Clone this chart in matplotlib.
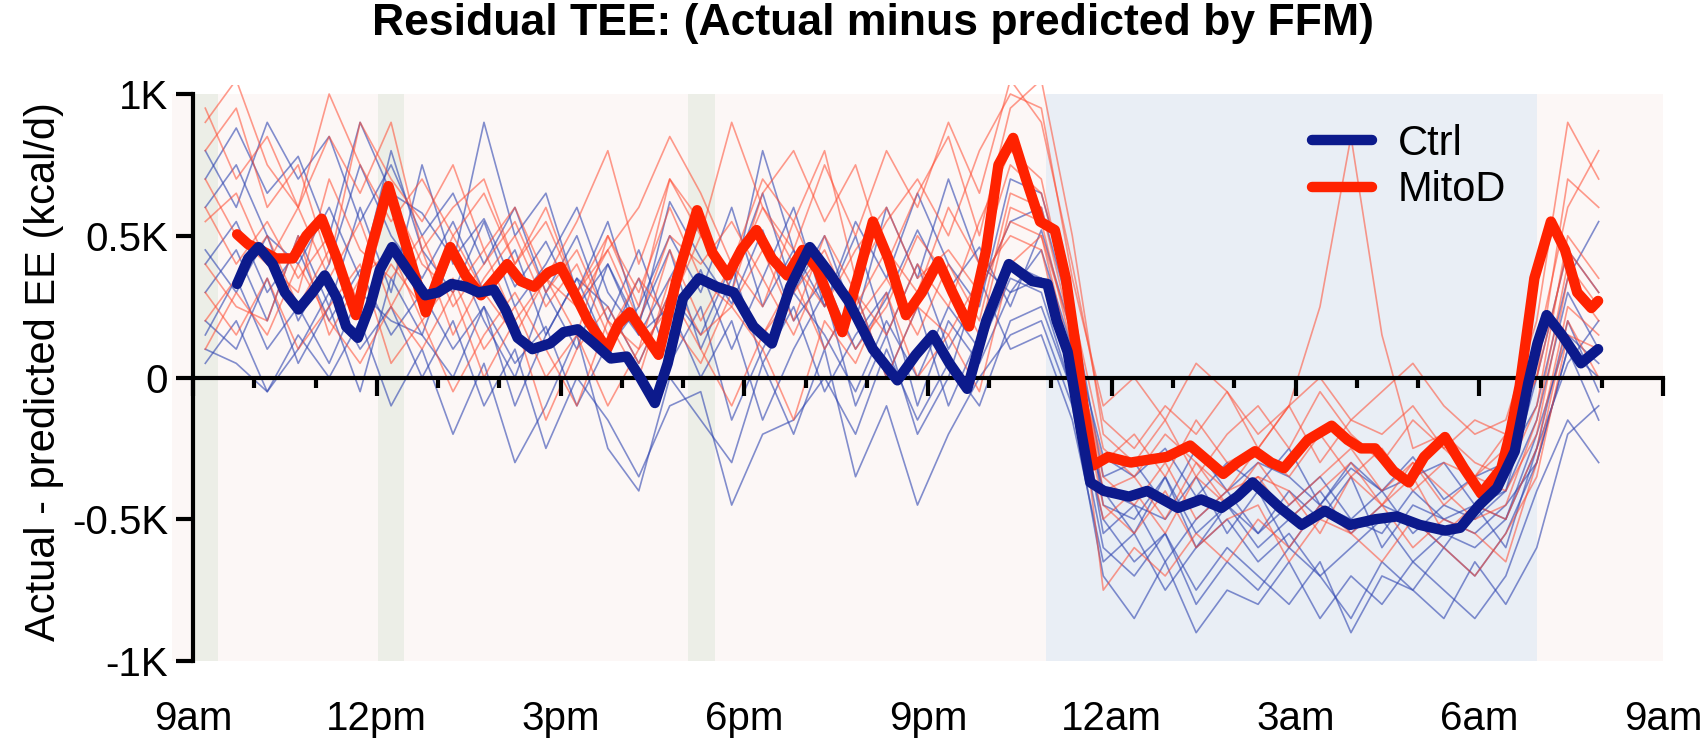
import matplotlib
matplotlib.use("Agg")
import matplotlib.pyplot as plt
import numpy as np

plt.rcParams['font.family'] = ['Liberation Sans', 'DejaVu Sans']

# group means (time in hours from midnight of day 1, kcal/d)
ctrl_t = [9.72, 9.9, 10.07, 10.3, 10.5, 10.72, 10.95, 11.15, 11.35, 11.5, 11.69, 11.9, 12.05, 12.25,
          12.5, 12.79, 13.0, 13.22, 13.45, 13.66, 13.91, 14.1, 14.3, 14.54, 14.83, 15.05, 15.28,
          15.55, 15.82, 16.08, 16.3, 16.54, 16.75, 17.0, 17.26, 17.55, 17.83, 18.15, 18.45, 18.75,
          19.07, 19.35, 19.7, 20.1, 20.5, 20.8, 21.08, 21.35, 21.64, 21.95, 22.32, 22.7, 22.95,
          23.1, 23.28, 23.5, 23.65, 23.87, 24.28, 24.58, 25.08, 25.46, 25.79, 26.05, 26.3, 26.75,
          27.1, 27.48, 27.89, 28.3, 28.66, 29.03, 29.44, 29.69, 30.0, 30.29, 30.58, 30.8, 30.95,
          31.1, 31.35, 31.66, 31.94]
ctrl_v = [330, 420, 460, 400, 300, 240, 300, 360, 280, 180, 140, 260, 380, 460,
          380, 290, 300, 330, 320, 300, 310, 240, 140, 100, 120, 160, 170,
          120, 67, 74, 0, -90, 50, 280, 350, 320, 300, 180, 120, 320,
          460, 380, 270, 100, -10, 80, 150, 50, -40, 200, 400, 340, 330,
          200, 90, -190, -370, -400, -420, -400, -460, -430, -460, -420, -370, -460,
          -520, -470, -520, -500, -490, -520, -540, -530, -450, -390, -260, -20, 120,
          220, 150, 50, 100]

mito_t = [9.72, 9.9, 10.1, 10.35, 10.63, 10.85, 11.1, 11.35, 11.66, 11.9, 12.19, 12.5, 12.8, 13.0,
          13.2, 13.45, 13.7, 13.9, 14.13, 14.35, 14.57, 14.8, 15.0, 15.22, 15.45, 15.76, 15.95,
          16.13, 16.35, 16.6, 16.9, 17.23, 17.48, 17.73, 17.95, 18.2, 18.45, 18.7, 18.95, 19.2,
          19.6, 19.85, 20.1, 20.35, 20.64, 20.9, 21.17, 21.4, 21.67, 21.95, 22.15, 22.39, 22.6,
          22.83, 23.07, 23.25, 23.42, 23.55, 23.7, 23.94, 24.31, 24.6, 24.9, 25.28, 25.55, 25.82,
          26.05, 26.34, 26.6, 26.81, 27.2, 27.59, 27.85, 28.07, 28.3, 28.6, 28.85, 29.1, 29.44,
          29.75, 30.03, 30.36, 30.5, 30.66, 30.9, 31.17, 31.4, 31.6, 31.83, 31.94]
mito_v = [505, 470, 450, 420, 420, 500, 560, 420, 220, 450, 675, 450, 230, 350,
          460, 360, 290, 340, 400, 340, 320, 370, 390, 300, 200, 100, 190,
          230, 160, 80, 350, 590, 440, 360, 450, 520, 420, 360, 450, 380,
          160, 350, 550, 420, 220, 300, 410, 300, 180, 450, 750, 845, 700,
          550, 520, 350, 100, -120, -310, -280, -300, -290, -280, -240, -290, -340,
          -300, -260, -300, -320, -220, -170, -220, -250, -250, -330, -370, -280, -210,
          -320, -410, -320, -200, -30, 350, 550, 450, 300, 245, 270]

# individual animals, sampled on a common grid
indiv_t = np.linspace(9.2, 31.95, 46)
ctrl_indiv = [
    [700, 880, 650, 780, 500, 900, 650, 580, 420, 560, 320, 480, 250, 400,
     180, 620, 420, 260, 520, 200, 350, 100, 280, 520, 310, 460, 250, 520,
     150, -280, -350, -250, -420, -300, -380, -250, -450, -320, -400, -280, -430, -350, -300,
     -100, 350, 550],
    [400, 550, 300, 450, 200, 380, 150, 300, 100, 250, 50, 180, -100, 120,
     350, 50, 250, -150, 100, 300, 150, -50, 200, 0, 250, 100, 350, 300,
     -50, -600, -700, -550, -800, -650, -750, -600, -700, -850, -650, -750, -600, -700, -550,
     -300, 100, 0],
    [800, 600, 900, 700, 850, 550, 750, 500, 650, 400, 600, 300, 500, 200,
     450, 150, 380, 100, 350, 600, 250, 500, 150, 400, 100, 300, 550, 600,
     200, -450, -500, -350, -550, -450, -600, -500, -400, -550, -450, -500, -600, -450, -500,
     -200, 150, 50],
    [100, 50, -50, 150, 0, 200, -100, 100, -200, 50, -300, -100, 150, -250,
     -400, 0, -150, -300, 50, -200, 100, -350, -100, -450, -200, 0, 150, 200,
     -100, -700, -850, -650, -900, -750, -800, -650, -850, -700, -800, -650, -750, -850, -700,
     -400, -150, -300],
    [300, 450, 200, 500, 250, 600, 300, 750, 400, 900, 500, 650, 300, 550,
     200, 450, 100, 350, 650, 300, 500, 200, 600, 350, 700, 400, 300, 450,
     100, -400, -450, -500, -350, -550, -400, -600, -450, -500, -550, -400, -500, -450, -600,
     -250, 50, 200],
    [50, 200, -50, 100, 300, 100, 250, 0, 200, -100, 100, -250, 0, -150,
     -350, -100, -50, -450, -200, -150, 0, -200, 100, -150, 50, -100, 200, 250,
     -50, -500, -650, -550, -750, -600, -700, -800, -650, -900, -700, -750, -850, -650, -800,
     -600, -200, -100],
    [600, 750, 500, 400, 600, 350, 800, 450, 300, 550, 250, 400, 600, 300,
     150, 350, 550, 300, 800, 450, 250, 550, 350, 650, 400, 250, 700, 650,
     250, -350, -300, -450, -250, -400, -300, -350, -450, -300, -400, -350, -300, -450, -400,
     0, 450, 300],
    [200, 100, 350, 50, 250, -50, 350, 150, 450, 200, 0, 300, 100, 400,
     150, 250, 0, 200, -150, 100, 300, -100, 150, -200, 0, 350, 100, 150,
     -150, -650, -550, -750, -600, -500, -650, -550, -700, -600, -500, -650, -550, -600, -500,
     -250, 200, -50],
    [450, 300, 500, 200, 400, 750, 500, 350, 550, 300, 450, 150, 350, 100,
     250, 500, 300, 600, 250, 450, 100, 300, 0, 250, -100, 150, 400, 350,
     50, -550, -450, -650, -500, -400, -550, -450, -350, -500, -400, -550, -450, -500, -400,
     -150, 300, 100],
    [150, 350, 100, 250, 50, 300, 200, 150, 0, 250, -100, 150, 350, 250,
     50, 300, 150, 400, 50, 250, -50, 150, 300, -100, 200, 50, 300, 350,
     0, -400, -550, -350, -600, -450, -550, -400, -500, -350, -600, -450, -500, -550, -450,
     -300, 100, -150],
]
mito_indiv = [
    [950, 700, 850, 600, 1000, 750, 550, 700, 500, 650, 400, 600, 300, 500,
     250, 700, 500, 900, 600, 450, 750, 500, 800, 600, 900, 650, 1050, 900,
     400, -150, -250, -100, -200, -50, -250, -100, -300, -150, -200, -100, -250, -150, -200,
     100, 600, 800],
    [600, 400, 550, 350, 500, 250, 650, 400, 300, 450, 200, 350, 150, 500,
     300, 600, 350, 250, 450, 200, 500, 300, 150, 400, 250, 550, 800, 700,
     200, -400, -350, -500, -300, -450, -350, -400, -550, -350, -450, -300, -400, -500, -450,
     -150, 400, 250],
    [300, 150, 350, 100, 250, 400, 50, 200, -50, 150, 300, 100, -100, 200,
     0, 350, 150, 250, 100, -150, 200, 50, 300, 0, 150, -50, 400, 500,
     50, -450, -550, -400, -600, -500, -450, -650, -500, -550, -450, -600, -500, -550, -650,
     -300, 200, 0],
    [800, 950, 600, 750, 400, 900, 700, 550, 750, 450, 600, 350, 550, 800,
     400, 700, 550, 300, 650, 800, 550, 750, 400, 650, 850, 500, 950, 1050,
     500, -200, -300, -150, -350, -200, -100, -250, -50, -200, -300, -150, -250, -350, -200,
     0, 700, 600],
    [400, 250, 200, 500, 150, 350, 450, 200, 350, 100, 250, 0, 150, -100,
     100, 450, 200, 400, 250, 550, 300, 100, 250, 500, 350, 150, 600, 550,
     100, -300, -200, -350, -150, -300, -250, -100, 250, 850, 150, -250, -200, -300, -350,
     -100, 500, 350],
    [550, 650, 400, 300, 700, 450, 350, 500, 250, 400, 550, 300, 450, 200,
     100, 250, 500, 350, 600, 400, 250, 450, 600, 350, 450, 300, 550, 500,
     150, -750, -600, -700, -550, -650, -500, -600, -450, -550, -650, -500, -600, -700, -550,
     -350, 150, 100],
    [200, 350, 500, 250, 450, 200, 400, 250, 500, 300, 150, 350, 250, 450,
     200, 500, 400, 550, 350, 150, 400, 250, 450, 300, 600, 400, 750, 650,
     250, -250, -350, -200, -300, -400, -250, -350, -200, -350, -250, -400, -300, -350, -250,
     0, 450, 300],
    [700, 500, 400, 600, 350, 550, 250, 450, 150, 350, 500, 250, 400, 150,
     350, 200, 50, 300, 150, 350, 100, 300, 0, 250, 150, 350, 500, 450,
     0, -500, -400, -550, -350, -450, -300, -450, -350, -250, -400, -300, -450, -350, -400,
     -200, 350, 200],
    [900, 1050, 750, 600, 850, 650, 900, 450, 600, 700, 400, 550, 300, 450,
     600, 850, 650, 400, 700, 550, 800, 350, 550, 700, 500, 800, 1000, 950,
     350, -100, 0, -150, 50, -50, -200, -100, 0, -150, -50, 50, -100, -200, -150,
     200, 900, 700],
    [100, 300, 150, 400, 200, 50, 250, 100, 300, 0, 200, -150, 100, 250,
     50, 300, 100, -100, 150, 300, 450, 200, 350, 150, 400, 200, 650, 600,
     150, -350, -450, -300, -500, -400, -350, -500, -400, -300, -450, -350, -550, -450, -500,
     -250, 250, 150],
]

# shaded periods
night = (22.92, 30.95)
meals = [(9.03, 9.41), (12.02, 12.45), (17.08, 17.52)]
xticks = [9, 12, 15, 18, 21, 24, 27, 30, 33]
xlabels = ['9am', '12pm', '3pm', '6pm', '9pm', '12am', '3am', '6am', '9am']
yticks = [-1000, -500, 0, 500, 1000]
ylabels = ['-1K', '-0.5K', '0', '0.5K', '1K']

fig = plt.figure(figsize=(17.08, 7.42), dpi=100)
ax = fig.add_axes([171.6 / 1708, 0.1015, 1491.4 / 1708, 0.7833])
ax.set_xlim(8.65, 33.0)
ax.set_ylim(-1020, 1030)

# background shading
ax.fill_between([8.65, 33.0], -1000, 1000, color='#fcf7f6', lw=0, zorder=0)
ax.fill_between(night, -1000, 1000, color='#e9eef5', lw=0, zorder=0.1)
for a, b in meals:
    ax.fill_between([a, b], -1000, 1000, color='#eceee7', lw=0, zorder=0.1)

for v in ctrl_indiv:
    ax.plot(indiv_t, v, color='#2f45b0', lw=1.2, alpha=0.6, zorder=1,
            solid_joinstyle='round')
for v in mito_indiv:
    ax.plot(indiv_t, v, color='#ff4a30', lw=1.2, alpha=0.55, zorder=1,
            solid_joinstyle='round')

ax.plot(ctrl_t, ctrl_v, color='#0c1a8c', lw=7.5, solid_capstyle='round',
        solid_joinstyle='round', zorder=4, label='Ctrl')
ax.plot(mito_t, mito_v, color='#ff2200', lw=7.5, solid_capstyle='round',
        solid_joinstyle='round', zorder=3, label='MitoD')

# axes styling
for s in ['top', 'right']:
    ax.spines[s].set_visible(False)
ax.spines['left'].set_position(('data', 9))
ax.spines['bottom'].set_position(('data', 0))
ax.spines['left'].set_bounds(-1000, 1000)
ax.spines['bottom'].set_bounds(9, 33)
ax.spines['left'].set_linewidth(3)
ax.spines['bottom'].set_linewidth(3)
ax.spines['bottom'].set_zorder(2.5)

ax.set_yticks(yticks)
ax.set_yticklabels(ylabels)
ax.tick_params(axis='y', length=12, width=3, labelsize=29, pad=6)
ax.set_xticks(xticks)
ax.set_xticks(np.arange(9, 34, 1), minor=True)
ax.tick_params(axis='x', which='major', length=13, width=3, labelbottom=False)
ax.tick_params(axis='x', which='minor', length=7, width=3)

sec = ax.secondary_xaxis('bottom')
sec.set_xticks(xticks)
sec.set_xticklabels(xlabels)
sec.tick_params(length=0, pad=24, labelsize=29)
sec.spines['bottom'].set_visible(False)

leg = ax.legend(loc='upper left', bbox_to_anchor=(1312 / 1708, 0.833),
                bbox_transform=fig.transFigure, frameon=False, fontsize=30,
                handlelength=1.45, handletextpad=0.6, labelspacing=0.15,
                borderpad=0, borderaxespad=0)

fig.text(0.511, 0.968, 'Residual TEE: (Actual minus predicted by FFM)',
         ha='center', va='center', fontsize=32, fontweight='bold')
fig.text(0.026, 1 - 372 / 742, 'Actual - predicted EE (kcal/d)', rotation=90,
         ha='center', va='center', fontsize=30)

fig.savefig('out.png', dpi=100)
